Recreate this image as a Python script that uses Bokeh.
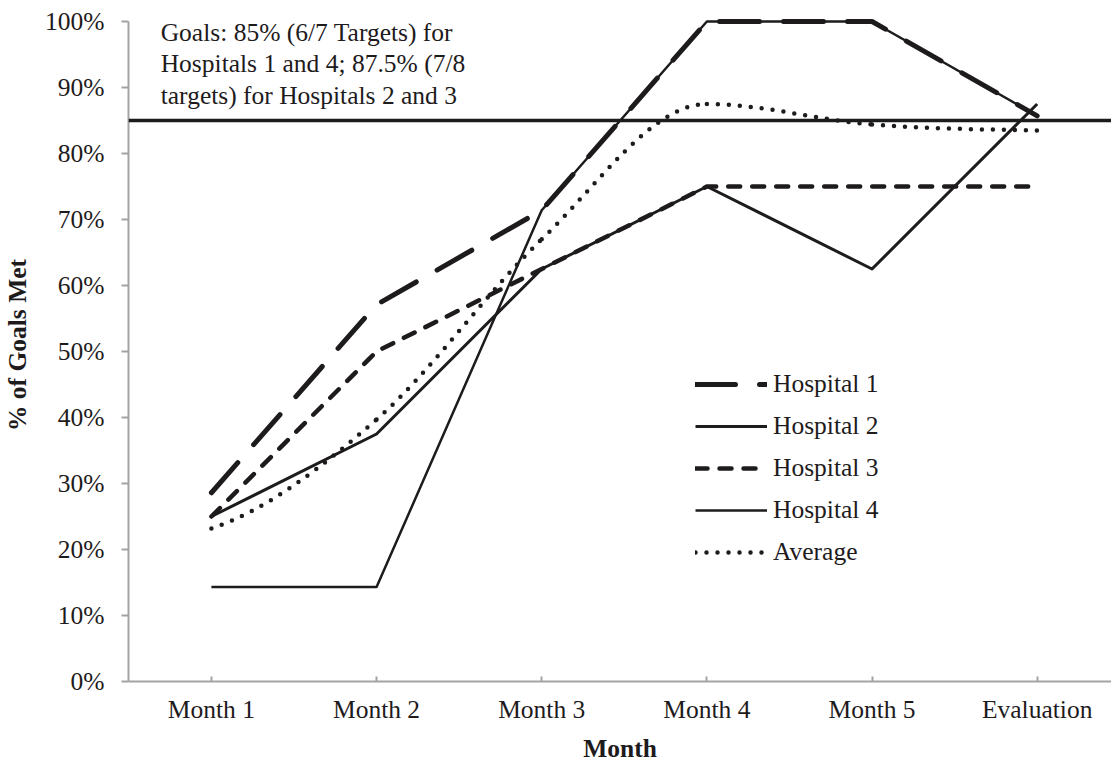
from bokeh.plotting import figure
from bokeh.models import (Range1d, FixedTicker, PrintfTickFormatter, Span, Label,
                          Legend, LegendItem)
from bokeh.embed import file_html
from bokeh.resources import INLINE

# ---- data (percent of goals met) ----
categories = ["Month 1", "Month 2", "Month 3", "Month 4", "Month 5", "Evaluation"]
hospital_1 = [28.6, 57.1, 71.4, 100.0, 100.0, 85.7]
hospital_2 = [25.0, 37.5, 62.5, 75.0, 62.5, 87.5]
hospital_3 = [25.0, 50.0, 62.5, 75.0, 75.0, 75.0]
hospital_4 = [14.3, 14.3, 71.4, 100.0, 100.0, 85.7]
average = [23.2, 39.7, 67.0, 87.5, 84.4, 83.5]
goal_level = 85
y_ticks = [0, 10, 20, 30, 40, 50, 60, 70, 80, 90, 100]
note_lines = ["Goals: 85% (6/7 Targets) for",
              "Hospitals 1 and 4; 87.5% (7/8",
              "targets) for Hospitals 2 and 3"]
x_title = "Month"
y_title = "% of Goals Met"

FONT = "'Liberation Serif', 'Times New Roman', serif"
INK = "#1e1b1c"
AXIS_GREY = "#a3a3a3"
FS = "25.5px"

xs = list(range(len(categories)))

p = figure(width=1111, height=765, output_backend="svg", toolbar_location=None,
           x_range=Range1d(-0.502, 5.45), y_range=Range1d(0, 101.97),
           min_border_left=128, min_border_right=0, min_border_top=8,
           min_border_bottom=82)
p.outline_line_color = None
p.grid.visible = False
p.background_fill_color = "white"
p.border_fill_color = "white"

# ---- axes ----
xa = p.xaxis[0]
xa.ticker = FixedTicker(ticks=xs)
xa.major_label_overrides = {i: c for i, c in zip(xs, categories)}
xa.major_tick_in = 5
xa.major_tick_out = 0
xa.minor_tick_line_color = None
xa.axis_line_color = AXIS_GREY
xa.axis_line_width = 2
xa.major_tick_line_color = AXIS_GREY
xa.major_tick_line_width = 2
xa.major_label_text_font = FONT
xa.major_label_text_font_size = FS
xa.major_label_text_color = INK
xa.major_label_standoff = 13
xa.axis_label = x_title
xa.axis_label_text_font = FONT
xa.axis_label_text_font_size = FS
xa.axis_label_text_font_style = "bold"
xa.axis_label_text_color = INK
xa.axis_label_standoff = 7

ya = p.yaxis[0]
ya.ticker = FixedTicker(ticks=y_ticks)
ya.formatter = PrintfTickFormatter(format="%d%%")
ya.bounds = (0, 100)
ya.major_tick_in = 0
ya.major_tick_out = 7
ya.minor_tick_line_color = None
ya.axis_line_color = AXIS_GREY
ya.axis_line_width = 2
ya.major_tick_line_color = AXIS_GREY
ya.major_tick_line_width = 2
ya.major_label_text_font = FONT
ya.major_label_text_font_size = FS
ya.major_label_text_color = INK
ya.major_label_standoff = 17
ya.axis_label = y_title
ya.axis_label_text_font = FONT
ya.axis_label_text_font_size = FS
ya.axis_label_text_font_style = "bold"
ya.axis_label_text_color = INK
ya.axis_label_standoff = 10

# ---- goal line ----
p.add_layout(Span(location=goal_level, dimension="width", line_color=INK,
                  line_width=3.5))

# ---- hospital series ----
r1 = p.line(xs, hospital_1, line_color=INK, line_width=5, line_dash="40 24",
            line_cap="round", line_join="round")
r2 = p.line(xs, hospital_2, line_color=INK, line_width=3, line_join="round")
r3 = p.line(xs, hospital_3, line_color=INK, line_width=4.5, line_dash="12 12",
            line_cap="round", line_join="round")
r4 = p.line(xs, hospital_4, line_color=INK, line_width=2.5, line_join="round")


# smoothed average: cubic Bezier segments; handles follow the neighbouring
# points, flattened at local peaks/troughs so the curve does not overshoot
def smooth_segments(x, y):
    n = len(x)
    slopes = []
    for i in range(n):
        if i == 0:
            slopes.append((y[1] - y[0]) / (x[1] - x[0]) * 0.5)
        elif i == n - 1:
            slopes.append((y[-1] - y[-2]) / (x[-1] - x[-2]) * 0.5)
        elif (y[i] - y[i - 1]) * (y[i + 1] - y[i]) <= 0:
            slopes.append(0.0)
        else:
            slopes.append((y[i + 1] - y[i - 1]) / (x[i + 1] - x[i - 1]))
    seg = dict(x0=[], y0=[], x1=[], y1=[], cx0=[], cy0=[], cx1=[], cy1=[])
    for i in range(n - 1):
        h = (x[i + 1] - x[i]) / 3.0
        seg["x0"].append(x[i]); seg["y0"].append(y[i])
        seg["x1"].append(x[i + 1]); seg["y1"].append(y[i + 1])
        seg["cx0"].append(x[i] + h); seg["cy0"].append(y[i] + slopes[i] * h)
        seg["cx1"].append(x[i + 1] - h); seg["cy1"].append(y[i + 1] - slopes[i + 1] * h)
    return seg


ravg = p.bezier(line_color=INK, line_width=4.5, line_dash="0 11", line_cap="round",
                **smooth_segments(xs, average))

# ---- legend ----
legend = Legend(items=[LegendItem(label="Hospital 1", renderers=[r1]),
                       LegendItem(label="Hospital 2", renderers=[r2]),
                       LegendItem(label="Hospital 3", renderers=[r3]),
                       LegendItem(label="Hospital 4", renderers=[r4]),
                       LegendItem(label="Average", renderers=[ravg])],
                location=(567, 114), orientation="vertical",
                glyph_width=72, glyph_height=30, label_height=30, label_standoff=6,
                spacing=12, padding=0, margin=0,
                border_line_color=None, background_fill_alpha=0,
                label_text_font=FONT, label_text_font_size=FS,
                label_text_color=INK)
p.add_layout(legend)

# ---- goal note ----
note_x = -0.307
note_baselines = [98.39, 93.6, 88.83]
for txt, yy in zip(note_lines, note_baselines):
    p.add_layout(Label(x=note_x, y=yy, text=txt, text_font=FONT,
                       text_font_size=FS, text_color=INK,
                       text_baseline="alphabetic", text_align="left"))

open("out.html", "w").write(file_html(p, INLINE))
